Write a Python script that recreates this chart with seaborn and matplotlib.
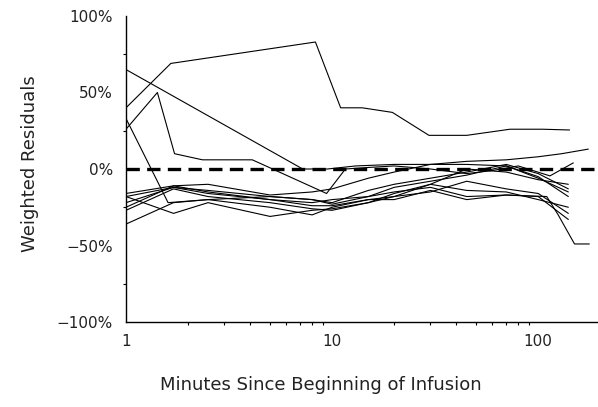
import numpy as np
import pandas as pd
import matplotlib
matplotlib.use("Agg")
import matplotlib.pyplot as plt
import matplotlib.ticker as mticker
import seaborn as sns

# ---- data (residuals in %) ----
t_A = [1, 1.65, 8.3, 11, 14, 19.6, 29.5, 45, 73, 105, 142]
r_A = [40, 69, 83, 40, 40, 37, 22, 22, 26, 26, 25.5]

t_B = [1, 7.2, 9.5, 13, 20, 30, 45, 70, 100, 130, 175]
r_B = [65, 0, 0, 2, 3, 3, 5, 6, 8, 10, 13]

t_C = [1, 1.42, 1.72, 2.35, 4.1, 9.4, 11.6, 15, 20, 30, 45, 60, 80, 114, 148]
r_C = [26, 50, 10, 6, 6, -16, 0, 1, 2, 0, -3, -1, 2, -4.5, 4]

t_D = [1, 1.6, 2.5, 5, 8, 10, 15, 20, 30, 45, 70, 110, 125, 150, 177]
r_D = [33, -22, -20, -18, -20, -23, -18, -15, -12, -18, -17, -18, -30, -49, -49]

t_grid = [1, 1.7, 2.5, 5, 8, 10, 15, 20, 30, 45, 70, 100, 140]
r_E = [-16, -11, -10, -17, -15, -13, -6, -2, 3, 3, 2, -5, -18]
r_F = [-18, -12, -14, -18, -20, -22, -14, -10, -6, -2, 3, -3, -13]
r_G = [-22, -12, -16, -20, -22, -20, -18, -12, -8, -4, 2, -6, -15]
r_H = [-25, -11, -15, -20, -24, -24, -20, -18, -10, -14, -15, -20, -25]
r_I = [-27, -13, -18, -22, -26, -27, -22, -18, -15, -8, -13, -16, -29]
r_J = [-36, -22, -20, -25, -30, -25, -20, -20, -14, -20, -17, -18, -33]
r_K = [-18, -29, -22, -31, -27, -26, -22, -16, -10, 0, -2, -7, -10]

series = {
    "A": (t_A, r_A), "B": (t_B, r_B), "C": (t_C, r_C), "D": (t_D, r_D),
    "E": (t_grid, r_E), "F": (t_grid, r_F), "G": (t_grid, r_G),
    "H": (t_grid, r_H), "I": (t_grid, r_I), "J": (t_grid, r_J),
    "K": (t_grid, r_K),
}

y_ticks = [-100, -50, 0, 50, 100]
y_ticklabels = ["\u2212100%", "\u221250%", "0%", "50%", "100%"]
x_ticks = [1, 10, 100]
x_ticklabels = ["1", "10", "100"]

rows = []
for sid, (tt, rr) in series.items():
    for t, r in zip(tt, rr):
        rows.append({"subject": sid, "time": t, "resid": r})
df = pd.DataFrame(rows)

# ---- plot ----
sns.set_theme(style="white")
plt.rcParams["font.family"] = ["DejaVu Sans"]

fig = plt.figure(figsize=(5.98, 4.07), dpi=100)
ax = fig.add_axes([126 / 598, 1 - 322 / 407, (598 - 126) / 598, (322 - 16) / 407])

sns.lineplot(data=df, x="time", y="resid", units="subject", estimator=None,
             color="black", linewidth=0.8, sort=False, ax=ax, legend=False)
ax.axhline(0, color="black", linewidth=2.4, linestyle=(0, (4, 2.2)), zorder=3)

ax.set_xscale("log")
ax.set_xlim(1, 195)
ax.set_ylim(-100, 100)

ax.xaxis.set_major_locator(mticker.FixedLocator(x_ticks))
ax.xaxis.set_major_formatter(mticker.FixedFormatter(x_ticklabels))
ax.xaxis.set_minor_locator(mticker.LogLocator(base=10, subs=np.arange(2, 10)))
ax.xaxis.set_minor_formatter(mticker.NullFormatter())
ax.yaxis.set_major_locator(mticker.FixedLocator(y_ticks))
ax.yaxis.set_major_formatter(mticker.FixedFormatter(y_ticklabels))
ax.yaxis.set_minor_locator(mticker.FixedLocator([-75, -25, 25, 75]))

for s in ["top", "right"]:
    ax.spines[s].set_visible(False)
for s in ["left", "bottom"]:
    ax.spines[s].set_color("black")
    ax.spines[s].set_linewidth(1.0)

ax.tick_params(axis="both", which="major", direction="out", length=3.5, width=0.8,
               color="black", labelsize=11, labelcolor="#222222")
ax.tick_params(axis="y", which="major", pad=6)
ax.tick_params(axis="x", which="major", pad=5)
ax.tick_params(axis="both", which="minor", direction="out", length=2, width=0.8,
               color="black", left=True, bottom=True)

ax.set_xlabel("Minutes Since Beginning of Infusion", fontsize=13, color="#222222")
ax.set_ylabel("Weighted Residuals", fontsize=13, color="#222222")
ax.xaxis.set_label_coords((321 - 126) / 472, -(385 - 322) / 306)
ax.yaxis.set_label_coords(-(126 - 30) / 472, (322 - 164) / 306)
ax.xaxis.label.set_va("center")
ax.yaxis.label.set_va("center")

fig.savefig("out.png", dpi=100)
